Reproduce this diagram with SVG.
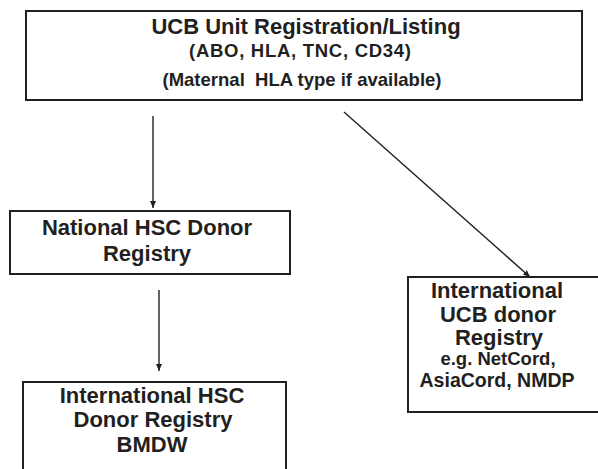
<svg xmlns="http://www.w3.org/2000/svg" width="598" height="469" viewBox="0 0 598 469">
<style>
.box{fill:#fff;stroke:#231f20;stroke-width:2}
.t{font-family:"Liberation Sans",Arial,sans-serif;font-weight:bold;fill:#231f20;text-anchor:middle}
.l{font-size:22px}
.s{font-size:18.5px}
.c{stroke:#231f20;stroke-width:1.4;fill:none;marker-end:url(#ah)}
</style>
<defs>
<marker id="ah" markerUnits="userSpaceOnUse" markerWidth="8" markerHeight="8" refX="7" refY="4" orient="auto">
<path d="M0,1 L7,4 L0,7 z" fill="#231f20"/>
</marker>
</defs>
<rect width="598" height="469" fill="#fff"/>
<g id="connectors">
<line class="c" x1="153" y1="116" x2="153" y2="208"/>
<line class="c" x1="159" y1="290" x2="159" y2="371"/>
<line class="c" x1="344" y1="112" x2="530" y2="277"/>
</g>
<g id="ucb-unit">
<rect class="box" x="26" y="11" width="556" height="89"/>
<text class="t l" x="306" y="34">UCB Unit Registration/Listing</text>
<text class="t s" x="300" y="57" textLength="222">(ABO, HLA, TNC, CD34)</text>
<text class="t s" x="302" y="86" textLength="279" xml:space="preserve">(Maternal  HLA type if available)</text>
</g>
<g id="national">
<rect class="box" x="10" y="211" width="280" height="63"/>
<text class="t l" x="147" y="235">National HSC Donor</text>
<text class="t l" x="147" y="261">Registry</text>
</g>
<g id="intl-hsc">
<rect class="box" x="23" y="382" width="263" height="100"/>
<text class="t l" x="152" y="403">International HSC</text>
<text class="t l" x="153" y="427">Donor Registry</text>
<text class="t l" x="152" y="452">BMDW</text>
</g>
<g id="intl-ucb">
<rect class="box" x="408" y="277" width="200" height="135"/>
<text class="t l" x="497" y="298">International</text>
<text class="t l" x="498" y="322">UCB donor</text>
<text class="t l" x="499" y="345">Registry</text>
<text class="t" x="498" y="365" font-size="18.5">e.g. NetCord,</text>
<text class="t" x="497" y="387" font-size="19.5">AsiaCord, NMDP</text>
</g>
</svg>
